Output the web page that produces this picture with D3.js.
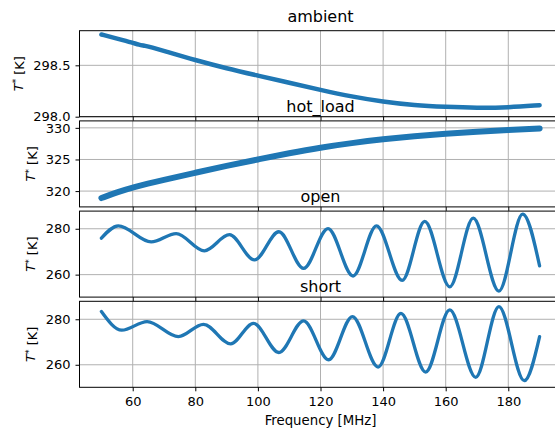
<!DOCTYPE html>
<html>
<head>
<meta charset="utf-8">
<script src="https://cdn.jsdelivr.net/npm/d3@7"></script>
<style>
  body { margin: 0; background: #fff; }
  svg { display: block; font-family: "DejaVu Sans", sans-serif; }
</style>
</head>
<body>
<div id="chart"></div>
<script>
// values (frequency in MHz, temperature in K)
const ambientFreq = [50, 55, 60, 62, 64, 66, 70, 80, 90, 100, 110, 120, 130, 140, 150, 160, 170, 180, 190];
const ambientTemp = [298.80, 298.76, 298.72, 298.70, 298.69, 298.675, 298.64, 298.55, 298.47, 298.40, 298.33, 298.26, 298.195, 298.145, 298.11, 298.095, 298.085, 298.09, 298.112];

const hotFreq = [50, 55, 60, 70, 80, 90, 100, 110, 120, 130, 140, 150, 160, 170, 180, 190];
const hotTemp = [318.9, 319.8, 320.6, 321.8, 322.9, 324.0, 325.0, 326.0, 326.9, 327.6, 328.2, 328.7, 329.1, 329.4, 329.65, 329.9];

const openFreq = [50, 55.4, 65.9, 73.9, 82.9, 90.9, 98.9, 106.7, 114.6, 122.4, 130.4, 137.9, 146.1, 153.3, 161.3, 168.8, 177.0, 184.6, 190];
const openTemp = [275.9, 281.3, 274.3, 277.9, 270.4, 277.4, 266.4, 278.7, 262.7, 280.1, 259.4, 281.3, 257.5, 283.2, 254.7, 284.6, 252.8, 286.4, 263.8];

const shortFreq = [50, 56.5, 64.6, 74.6, 82.6, 91.3, 98.6, 106.7, 114.6, 122.6, 130.2, 138.4, 145.7, 153.6, 161.3, 169.6, 177.0, 185.1, 190];
const shortTemp = [283.4, 275.2, 279.0, 272.4, 277.8, 269.2, 278.2, 265.4, 279.3, 262.2, 281.2, 259.0, 282.6, 256.8, 284.1, 254.5, 285.6, 253.0, 272.4];

const panelTitles = ["ambient", "hot_load", "open", "short"];
const xTicks = [60, 80, 100, 120, 140, 160, 180];
const yTickSets = [[298.0, 298.5], [320, 325, 330], [260, 280], [260, 280]];
const yTickFormats = [".1f", "d", "d", "d"];

// layout
const W = 555, H = 428;
const left = 79.5, right = 561.5;
const firstTop = 30.7, panelH = 86, step = 90.2;
const blue = "#1f77b4";
const yDomains = [[298.0, 298.837], [317.5, 331.1], [250.2, 287.7], [250.1, 287.9]];
const widths = [4.5, 6, 3.3, 3.3];
const curves = [d3.curveBasis, d3.curveBasis, d3.curveMonotoneX, d3.curveMonotoneX];

const series = [
  {f: ambientFreq, t: ambientTemp},
  {f: hotFreq, t: hotTemp},
  {f: openFreq, t: openTemp},
  {f: shortFreq, t: shortTemp}
];

const svg = d3.select("#chart").append("svg")
  .attr("width", W).attr("height", H);

const x = d3.scaleLinear().domain([43, 197]).range([left, right]);

series.forEach((s, i) => {
  const top = firstTop + i * step;
  const bottom = top + panelH;
  const y = d3.scaleLinear().domain(yDomains[i]).range([bottom, top]);
  const g = svg.append("g");

  // grid
  g.selectAll(".vgrid").data(xTicks).enter().append("line")
    .attr("x1", d => x(d)).attr("x2", d => x(d))
    .attr("y1", top).attr("y2", bottom)
    .attr("stroke", "#b0b0b0").attr("stroke-width", 1);
  g.selectAll(".hgrid").data(yTickSets[i]).enter().append("line")
    .attr("x1", left).attr("x2", right)
    .attr("y1", d => y(d)).attr("y2", d => y(d))
    .attr("stroke", "#b0b0b0").attr("stroke-width", 1);

  // data line
  const clipId = "clip" + i;
  svg.append("clipPath").attr("id", clipId).append("rect")
    .attr("x", left).attr("y", top).attr("width", right - left).attr("height", panelH);
  const pts = s.f.map((f, k) => [f, s.t[k]]);
  const line = d3.line().x(d => x(d[0])).y(d => y(d[1])).curve(curves[i]);
  g.append("path").datum(pts)
    .attr("clip-path", "url(#" + clipId + ")")
    .attr("d", line)
    .attr("fill", "none")
    .attr("stroke", blue)
    .attr("stroke-width", widths[i])
    .attr("stroke-linecap", "round")
    .attr("stroke-linejoin", "round");

  // frame
  g.append("rect")
    .attr("x", left).attr("y", top)
    .attr("width", right - left).attr("height", panelH)
    .attr("fill", "none").attr("stroke", "#000").attr("stroke-width", 1);

  // axes
  const yAxis = g.append("g").attr("transform", "translate(" + left + ",0)")
    .call(d3.axisLeft(y).tickValues(yTickSets[i]).tickFormat(d3.format(yTickFormats[i])).tickSize(4).tickPadding(5));
  yAxis.select(".domain").remove();
  yAxis.selectAll("text").attr("font-size", 13).attr("font-family", "DejaVu Sans").attr("fill", "#000");

  const isLast = i === series.length - 1;
  const xAxis = g.append("g").attr("transform", "translate(0," + bottom + ")")
    .call(d3.axisBottom(x).tickValues(xTicks).tickSize(4).tickPadding(5)
      .tickFormat(isLast ? d3.format("d") : ""));
  xAxis.select(".domain").remove();
  xAxis.selectAll("text").attr("font-size", 13).attr("font-family", "DejaVu Sans").attr("fill", "#000");

  // title
  svg.append("text")
    .attr("x", (left + right) / 2).attr("y", top - 9)
    .attr("text-anchor", "middle")
    .attr("font-size", 16)
    .text(panelTitles[i]);

  // y label, placed relative to widest tick label
  const bb = yAxis.node().getBBox();
  const lx = left + bb.x - 15;
  const ly = (top + bottom) / 2;
  const lab = svg.append("text")
    .attr("transform", "translate(" + lx + "," + ly + ") rotate(-90)")
    .attr("text-anchor", "middle")
    .attr("dy", "0.35em")
    .attr("font-size", 13);
  lab.append("tspan").attr("font-style", "italic").text("T");
  lab.append("tspan").attr("dy", "-0.4em").attr("font-size", 9).text("*");
  lab.append("tspan").attr("dy", "0.4em").text(" [K]");
});

svg.append("text")
  .attr("x", (left + right) / 2).attr("y", 424.5)
  .attr("text-anchor", "middle")
  .attr("font-size", 13.3)
  .text("Frequency [MHz]");
</script>
</body>
</html>
